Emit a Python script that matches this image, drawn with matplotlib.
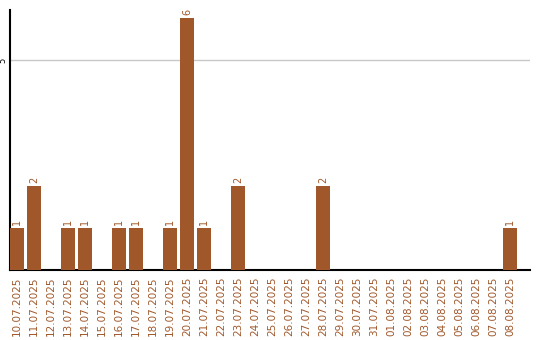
import matplotlib
matplotlib.use("Agg")
import matplotlib.pyplot as plt
from datetime import date, timedelta

start = date(2025, 7, 10)
days = [(start + timedelta(days=i)).strftime("%d.%m.%Y") for i in range(30)]
counts = [1, 2, 0, 1, 1, 0, 1, 1, 0, 1, 6, 1, 0, 2, 0, 0, 0, 0, 2,
          0, 0, 0, 0, 0, 0, 0, 0, 0, 0, 1]

bar_color = "#A0582B"
text_color = "#A0582B"

fig = plt.figure(figsize=(5.4, 3.4), dpi=100)
ax = fig.add_axes([10 / 540, 70 / 340, 520 / 540, 260 / 340])

w = 14 / 17
xs = list(range(len(days)))
ax.bar(xs, counts, width=w, color=bar_color, zorder=3)

for x, c in zip(xs, counts):
    if c:
        ax.text(x, c + 0.07, str(c), rotation=90, ha="center", va="bottom",
                fontsize=7, color=text_color)

ax.set_xlim(-w / 2, -w / 2 + 520 / 17)
ax.set_ylim(0, 260 / 42)
ax.set_yticks([5])
ax.set_yticklabels(["5"], rotation=90, va="center", ha="center", fontsize=6)
ax.yaxis.grid(True, color="#c8c8c8", linewidth=1, zorder=0)
ax.tick_params(axis="y", length=0, pad=5)

ax.set_xticks(xs)
ax.set_xticklabels(days, rotation=90, fontsize=7.5, color=text_color)
ax.tick_params(axis="x", length=0, pad=5)

for s in ("top", "right"):
    ax.spines[s].set_visible(False)
ax.spines["left"].set_linewidth(1.5)
ax.spines["bottom"].set_linewidth(1.5)

fig.savefig("out.png", dpi=100)
